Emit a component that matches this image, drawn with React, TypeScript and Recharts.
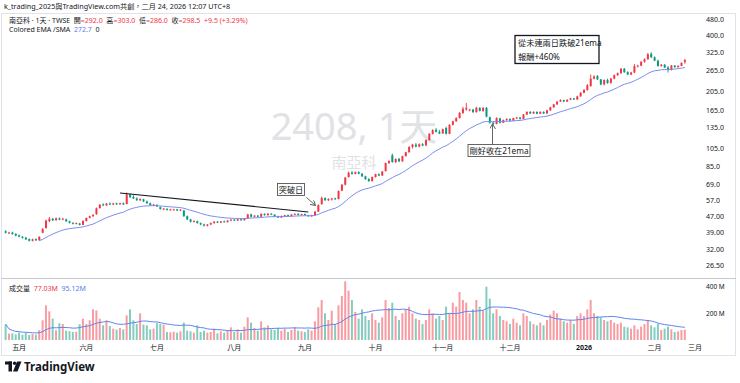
import React from 'react';
import { ComposedChart, Bar, Line, XAxis, YAxis, Cell, ReferenceLine } from 'recharts';

// ---------- DATA ----------
const dates: string[] = [
  '2025-04-25','2025-04-28','2025-04-29','2025-04-30',
  '2025-05-02','2025-05-05','2025-05-06','2025-05-07','2025-05-08','2025-05-09','2025-05-12','2025-05-13','2025-05-14','2025-05-15','2025-05-16','2025-05-19','2025-05-20','2025-05-21','2025-05-22','2025-05-23','2025-05-26','2025-05-27','2025-05-28','2025-05-29',
  '2025-06-02','2025-06-03','2025-06-04','2025-06-05','2025-06-06','2025-06-09','2025-06-10','2025-06-11','2025-06-12','2025-06-13','2025-06-16','2025-06-17','2025-06-18','2025-06-19','2025-06-20','2025-06-23','2025-06-24','2025-06-25','2025-06-26','2025-06-27','2025-06-30',
  '2025-07-01','2025-07-02','2025-07-03','2025-07-04','2025-07-07','2025-07-08','2025-07-09','2025-07-10','2025-07-11','2025-07-14','2025-07-15','2025-07-16','2025-07-17','2025-07-18','2025-07-21','2025-07-22','2025-07-23','2025-07-24','2025-07-25','2025-07-28','2025-07-29','2025-07-30','2025-07-31',
  '2025-08-01','2025-08-04','2025-08-05','2025-08-06','2025-08-07','2025-08-08','2025-08-11','2025-08-12','2025-08-13','2025-08-14','2025-08-15','2025-08-18','2025-08-19','2025-08-20','2025-08-21','2025-08-22','2025-08-25','2025-08-26','2025-08-27','2025-08-28','2025-08-29',
  '2025-09-01','2025-09-02','2025-09-03','2025-09-04','2025-09-05','2025-09-08','2025-09-09','2025-09-10','2025-09-11','2025-09-12','2025-09-15','2025-09-16','2025-09-17','2025-09-18','2025-09-19','2025-09-22','2025-09-23','2025-09-24','2025-09-25','2025-09-26','2025-09-30',
  '2025-10-01','2025-10-02','2025-10-03','2025-10-07','2025-10-08','2025-10-09','2025-10-13','2025-10-14','2025-10-15','2025-10-16','2025-10-17','2025-10-20','2025-10-21','2025-10-22','2025-10-23','2025-10-27','2025-10-28','2025-10-29','2025-10-30','2025-10-31',
  '2025-11-03','2025-11-04','2025-11-05','2025-11-06','2025-11-07','2025-11-10','2025-11-11','2025-11-12','2025-11-13','2025-11-14','2025-11-17','2025-11-18','2025-11-19','2025-11-20','2025-11-21','2025-11-24','2025-11-25','2025-11-26','2025-11-27','2025-11-28',
  '2025-12-01','2025-12-02','2025-12-03','2025-12-04','2025-12-05','2025-12-08','2025-12-09','2025-12-10','2025-12-11','2025-12-12','2025-12-15','2025-12-16','2025-12-17','2025-12-18','2025-12-19','2025-12-22','2025-12-23','2025-12-24','2025-12-26','2025-12-29','2025-12-30','2025-12-31',
  '2026-01-02','2026-01-05','2026-01-06','2026-01-07','2026-01-08','2026-01-09','2026-01-12','2026-01-13','2026-01-14','2026-01-15','2026-01-16','2026-01-19','2026-01-20','2026-01-21','2026-01-22','2026-01-23','2026-01-26','2026-01-27','2026-01-28','2026-01-29','2026-01-30',
  '2026-02-02','2026-02-03','2026-02-04','2026-02-05','2026-02-06','2026-02-09','2026-02-10','2026-02-11','2026-02-23','2026-02-24',
  '2026-02-25','2026-02-26','2026-03-02','2026-03-03',
];

const opens: number[] = [
  39.5,38.6,38.9,38.3,37.6,37,36.6,36,35.3,36,35.5,38.8,41,44.5,45.8,45,46,45.3,45.5,44.4,43.6,43.2,43.3,42.6,
  44.6,46.3,47.2,48.3,52,54.2,53.6,54.8,54.2,55,54.3,55,54.5,61,59.3,58.2,57,57.6,56.2,55,53.8,
  54,52.5,51.4,51.5,50.8,51,51.2,50.5,50.5,47.2,45.4,44.2,44.5,43.5,42.8,42.2,42.8,43.5,44.2,43.8,44.4,44,44.8,
  45.3,44.8,45.5,45,46,48.2,46.9,47.5,46.9,48.5,47.8,48.6,48.1,47.1,46.5,47.3,47.8,47.3,48.1,48.5,47.9,
  48.4,47.7,47.2,47.8,49.8,54.5,58.5,57,57.5,58.2,57.8,63.8,68.5,75,79,77.8,79.5,78,75.6,73.2,71.5,
  75,77.5,76.3,80.5,88.5,97,89.5,93,90.2,96,100.5,107,110,107.5,110.5,108.8,116,125,131,128,
  125.5,134,125,139,145,150.5,160,167,165,166.5,161.5,170,164,170,152,142.5,140.5,150,142.5,147,
  149,146,150,151.5,149,157,162,159,162,158.5,162,159,165,171,177,183,186,183,187,190,187.5,194.5,
  203,210,220,240,248,238,224,236,228,240,250,256,270,259,252,258,278,280,293,302,322,
  309,297,279,283,274,266,280,275,279,292,
];
const highs: number[] = [
  40,39.2,39.3,38.6,38,37.3,37,36.3,36.2,36.3,37.2,41,45.3,46.8,46.3,46.5,46.5,46.3,45.8,44.8,44,43.8,43.6,45,
  46.5,47.5,48.3,52.3,54.5,55,55.2,55.5,55.3,55.4,55.3,55.5,62.5,61.5,60.5,59,58.3,58,56.8,55.5,54.6,
  54.3,53,52,51.8,51.5,51.5,51.5,51.3,50.8,47.6,45.8,45,44.8,43.8,43.2,43,43.8,44.5,44.6,44.6,44.8,45,45.6,
  45.6,45.8,45.8,46.2,48.5,48.6,47.8,47.8,48.8,48.8,48.9,48.9,48.3,47.5,47.6,48,48.2,48.3,48.8,48.9,48.6,
  48.7,48,48,50.2,54.3,59.5,59,58.3,58.6,58.8,64,69,75,80,80.5,80,80.3,78.5,76.2,74,75.5,
  78,78.3,80.5,89,91.5,99,93.5,94,96.5,101,108,111,112,111.5,112,117,126,132,134,131,
  133,136,140,146,152,162,172,180,168,167.5,172,171,171,171.5,153,145,152,151,148,150,
  150,151,152.5,152.5,158,163,163.5,163,163,163,163,166,172,178,184,188,187,188,191,191,196,205,
  212,225,252,250,250,239,238,240,242,252,258,272,272,262,260,285,283,295,305,325,328,
  312,300,285,285,278,282,282,281,291,303,
];
const lows: number[] = [
  38.5,38.2,37.9,37.2,36.8,36.2,35.6,35,35,35.2,35.3,38.6,40.8,44,44.5,44.8,45,45,44.2,43.3,42.8,42.8,42.3,42.5,
  44.3,46,46.8,48,51.5,53.2,53.3,53.8,53.8,53.9,54,53.9,54.3,58.5,57.8,56.6,56.5,55.8,54.6,53.4,53.2,
  52.6,51,50.8,50.5,50.4,50.6,50.2,50.2,46.8,45,43.8,43.8,43.2,42.4,41.8,41.8,42.5,43.2,43.5,43.5,43.8,43.8,44.5,
  44.5,44.6,44.7,44.8,45.8,46.5,46.5,46.6,46.7,47.5,47.5,47.8,46.8,46.2,46.3,47,47,47,47.8,47.6,47.6,
  47.4,46.9,47,47.6,49.6,54,56.5,56.5,56.8,57.3,57.6,63.5,68,74.5,77.2,77.5,77.5,75,72.5,70.8,71,
  74.5,75.8,76,80,87.5,88.8,88.5,89.5,90,95.5,100,105,106.5,106.5,108,108.5,115.5,124,127,124.5,
  125,124,124.5,138,144,150,158,164,163,160,160.5,163,162,152,141,139,140,141,142,145.5,
  145,145.5,148.5,148,148.5,156,158,158,157.5,158,158,158.5,164,170,176,182,182,182,186,186.5,187,194,
  202,208,218,238,236,222,222,226,226,238,248,254,257,250,250,256,274,278,290,300,306,
  295,276,276,272,258,264,273,273,278,286,
];
const closes: number[] = [
  38.8,38.9,38.2,37.5,37,36.5,35.9,35.3,35.9,35.5,37,40.5,44.8,45.8,45,46,45.3,45.8,44.4,43.6,43.2,43.5,42.6,44.6,
  46.2,47.2,48,51.8,54,53.6,54.8,54.2,54.9,54.3,55,54.2,61,59.2,58.2,57,57.8,56.2,55,53.8,54.2,
  53,51.4,51.6,50.8,51.2,51.1,50.5,51,47.2,45.4,44.2,44.6,43.5,42.8,42.2,42.8,43.5,44.2,43.8,44.4,44,44.8,45.3,
  44.8,45.5,45,46,48.2,46.9,47.5,46.9,48.5,47.8,48.6,48.1,47.1,46.5,47.3,47.8,47.3,48.1,48.5,47.9,48.4,
  47.7,47.2,47.6,49.8,53.8,58.5,57,57.8,58.2,57.6,63.5,68.5,74.5,79,77.8,79.5,78,75.6,73.2,71.5,75,
  77.5,76.3,80,88.5,90.5,89.5,92.8,90.2,96,100.5,107,110,107.5,110.5,108.8,116,125,130.5,128,125.5,
  132,125,139,145,150.5,160,168,170,166.5,161.5,170,164,170,153,142.5,140.5,150.5,142.5,147,149,
  146,150.5,151.5,149,157,162,159,162,158.5,162,159,165,171,177,183,186,183,187,190,187.5,194.5,203,
  210,222,240,246,238,224,236,228,240,250,256,270,259,252,258,278,280,293,302,320,309,
  297,279,283,274,266,280,275,279,289,298.5,
];
// volume in millions
const volumes: number[] = [
  118,48,50,42,55,40,52,38,45,40,74,148,260,215,160,74,126,120,70,66,60,62,118,160,
  120,148,230,222,160,110,148,105,85,78,90,80,185,230,148,120,200,115,110,80,85,
  126,120,115,60,58,62,55,65,130,70,65,55,110,60,70,55,60,85,50,65,55,75,95,
  60,80,55,100,170,130,90,70,140,95,110,80,75,90,70,85,60,75,95,70,65,
  60,80,70,140,245,300,200,150,220,120,260,330,440,370,300,210,160,230,180,150,200,
  150,130,170,300,240,280,180,150,200,230,250,200,160,150,120,150,230,200,160,180,
  150,250,200,280,250,360,300,280,200,230,300,250,220,400,310,200,230,180,150,140,
  120,160,130,110,200,180,140,120,110,130,110,150,190,220,200,160,140,130,150,120,180,200,
  180,230,300,200,180,170,150,140,150,130,120,130,100,95,85,110,80,100,120,150,110,
  95,120,75,85,100,80,60,65,75,77.03,
];

const monthTickDates: string[] = ['2025-05-02','2025-06-02','2025-07-01','2025-08-01','2025-09-01','2025-10-01','2025-11-03','2025-12-01','2026-01-02','2026-02-02','2026-03-02'];
const monthTickLabels: string[] = ['五月','六月','七月','八月','九月','十月','十一月','十二月','2026','二月','三月'];

const priceTicks: number[] = [26.5, 32, 39, 47, 57, 69, 85, 105, 135, 165, 205, 265, 325, 400, 480];
const priceTickLabels: string[] = ['26.50','32.00','39.00','47.00','57.0','69.0','85.0','105.0','135.0','165.0','205.0','265.0','325.0','400.0','480.0'];
const volTicks: number[] = [200, 400];
const volTickLabels: string[] = ['200\u00A0M', '400\u00A0M'];

// trend line drawn by the author (from peak to breakout)
const trendStart = { date: '2025-06-16', value: 62.1 };
const trendEnd = { date: '2025-09-02', value: 49.6 };

// indicator settings
const EMA_LEN = 21;
const EMA_SEED_INDEX = 10;
const EMA_SEED_VALUE = 35.4;
const VOL_MA_LEN = 20;

// ---------- STYLE ----------
const UP = '#F23645';
const DOWN = '#089981';
const UP_VOL = '#f99ba2';
const DOWN_VOL = '#84ccc0';
const EMA_COLOR = '#7b8cf2';
const VOLMA_COLOR = '#5b86f0';
const TEXT = '#131722';
const FONT = '"Noto Sans", "Noto Sans CJK TC", sans-serif';

// ---------- DERIVED ----------
const k = 2 / (EMA_LEN + 1);
const emaVals: (number | null)[] = [];
{
  let prev: number | null = null;
  closes.forEach((c, i) => {
    if (i < EMA_SEED_INDEX) { emaVals.push(null); return; }
    if (prev === null) prev = EMA_SEED_VALUE;
    else prev = prev + k * (c - prev);
    emaVals.push(prev);
  });
}
const volMA: number[] = volumes.map((_, i) => {
  const s = Math.max(0, i - VOL_MA_LEN + 1);
  const w = volumes.slice(s, i + 1);
  return w.reduce((a, b) => a + b, 0) / w.length;
});

const rows = dates.map((date, i) => {
  const has = i < closes.length;
  return {
    date,
    open: has ? opens[i] : null,
    high: has ? highs[i] : null,
    low: has ? lows[i] : null,
    close: has ? closes[i] : null,
    range: has ? [lows[i], highs[i]] : null,
    volume: has ? volumes[i] : null,
    up: has ? closes[i] >= opens[i] : true,
    ema: has ? emaVals[i] : null,
    volMA: has ? volMA[i] : null,
  };
});

const Candle = (props: any) => {
  const { x, y, width, height, payload } = props;
  if (!payload || payload.open == null || !isFinite(y) || !isFinite(height)) return null;
  const { open, close, high, low } = payload;
  const color = close >= open ? UP : DOWN;
  const lh = Math.log(high);
  const ll = Math.log(low);
  const span = lh - ll || 1;
  const py = (v: number) => y + (height * (lh - Math.log(v))) / span;
  const cx = x + width / 2;
  const top = py(Math.max(open, close));
  const bot = py(Math.min(open, close));
  return (
    <g>
      <line x1={cx} x2={cx} y1={y} y2={y + height} stroke={color} strokeWidth={0.9} />
      <rect x={x} y={top} width={width} height={Math.max(0.9, bot - top)} fill={color} />
    </g>
  );
};

const MonthTick = (props: any) => {
  const { x, y, payload } = props;
  const label = monthTickLabels[monthTickDates.indexOf(payload.value)] ?? '';
  const isYear = /^\d{4}$/.test(label);
  return (
    <text x={x} y={y + 7} textAnchor="middle" fontSize={7} fontWeight={isYear ? 700 : 400} fill={TEXT} fontFamily={FONT}>
      {label}
    </text>
  );
};

const CHART_W = 732;
const AXIS_W = 36;

export default function App() {
  return (
    <div style={{ position: 'absolute', left: 0, top: 0, width: 740, height: 383, background: '#fff', fontFamily: FONT, overflow: 'hidden' }}>
      {/* frame */}
      <div style={{ position: 'absolute', left: 1, top: 13, width: 735, height: 343, border: '1px solid #e0e3eb', boxSizing: 'border-box' }} />
      <div style={{ position: 'absolute', left: 1, top: 278, width: 735, height: 1, background: '#c7c9d0' }} />

      {/* watermark */}
      <svg width={740} height={383} style={{ position: 'absolute', left: 0, top: 0 }}>
        <text x={354} y={140} textAnchor="middle" fontSize={38} fill="#e1e2e5" fontFamily={FONT}>2408, 1天</text>
        <text x={354} y={168} textAnchor="middle" fontSize={15} fill="#e1e2e5" fontFamily={FONT}>南亞科</text>
      </svg>

      {/* price pane */}
      <div style={{ position: 'absolute', left: 4, top: 14 }}>
        <ComposedChart width={CHART_W} height={264} data={rows} margin={{ top: 0, right: 0, bottom: 0, left: 0 }} barCategoryGap="20%">
          <XAxis dataKey="date" hide />
          <YAxis
            orientation="right"
            scale="log"
            domain={[22.73, 515.3]}
            allowDataOverflow
            ticks={priceTicks}
            interval={0}
            tickFormatter={(v: number) => priceTickLabels[priceTicks.indexOf(v)] ?? String(v)}
            width={AXIS_W}
            axisLine={false}
            tickLine={false}
            tickSize={0}
            tickMargin={6}
            tick={{ fontSize: 7, fill: TEXT, fontFamily: FONT }}
          />
          <Bar dataKey="range" isAnimationActive={false} shape={(p: any) => <Candle {...p} />} />
          <Line dataKey="ema" stroke={EMA_COLOR} strokeWidth={1} dot={false} isAnimationActive={false} connectNulls={false} />
          <ReferenceLine
            segment={[{ x: trendStart.date, y: trendStart.value }, { x: trendEnd.date, y: trendEnd.value }]}
            stroke="#131722"
            strokeWidth={1.2}
            ifOverflow="visible"
          />
        </ComposedChart>
      </div>

      {/* volume pane */}
      <div style={{ position: 'absolute', left: 4, top: 280 }}>
        <ComposedChart width={CHART_W} height={76} data={rows} margin={{ top: 0, right: 0, bottom: 0, left: 0 }} barCategoryGap="18%">
          <XAxis
            dataKey="date"
            ticks={monthTickDates}
            interval={0}
            axisLine={false}
            tickLine={false}
            tickSize={0}
            tickMargin={3}
            height={16}
            tick={<MonthTick />}
          />
          <YAxis
            orientation="right"
            domain={[0, 450]}
            allowDataOverflow
            ticks={volTicks}
            interval={0}
            tickFormatter={(v: number) => volTickLabels[volTicks.indexOf(v)] ?? ''}
            width={AXIS_W}
            axisLine={false}
            tickLine={false}
            tickSize={0}
            tickMargin={6}
            tick={{ fontSize: 6.5, fill: TEXT, fontFamily: FONT, width: 60 }}
          />
          <Bar dataKey="volume" isAnimationActive={false}>
            {rows.map((r, i) => (
              <Cell key={i} fill={r.up ? UP_VOL : DOWN_VOL} />
            ))}
          </Bar>
          <Line dataKey="volMA" stroke={VOLMA_COLOR} strokeWidth={1} dot={false} isAnimationActive={false} />
        </ComposedChart>
      </div>

      {/* header texts */}
      <div style={{ position: 'absolute', left: 4, top: 2, fontSize: 7.2, color: TEXT, whiteSpace: 'nowrap', lineHeight: '9px' }}>
        k_trading_2025與TradingView.com共創，二月 24, 2026 12:07 UTC+8
      </div>
      <div style={{ position: 'absolute', left: 9, top: 16, fontSize: 7, color: TEXT, whiteSpace: 'nowrap', lineHeight: '9px' }}>
        南亞科 · 1天 · TWSE&nbsp;&nbsp;開<span style={{ color: UP }}>=292.0</span>&nbsp;&nbsp;高<span style={{ color: UP }}>=303.0</span>&nbsp;&nbsp;低<span style={{ color: UP }}>=286.0</span>&nbsp;&nbsp;收<span style={{ color: UP }}>=298.5&nbsp;&nbsp;+9.5 (+3.29%)</span>
      </div>
      <div style={{ position: 'absolute', left: 9, top: 25, fontSize: 7, color: TEXT, whiteSpace: 'nowrap', lineHeight: '9px' }}>
        Colored EMA /SMA&nbsp;&nbsp;<span style={{ color: '#5b7cf0' }}>272.7</span>&nbsp;&nbsp;0
      </div>
      <div style={{ position: 'absolute', left: 9, top: 284, fontSize: 7, color: TEXT, whiteSpace: 'nowrap', lineHeight: '9px' }}>
        成交量&nbsp;&nbsp;<span style={{ color: UP }}>77.03M</span>&nbsp;&nbsp;<span style={{ color: '#5b7cf0' }}>95.12M</span>
      </div>

      {/* annotations */}
      <svg width={740} height={383} style={{ position: 'absolute', left: 0, top: 0, pointerEvents: 'none' }}>
        <defs>
          <marker id="ah" markerWidth="6" markerHeight="6" refX="5" refY="3" orient="auto" markerUnits="userSpaceOnUse">
            <path d="M0,0 L5,3 L0,6" fill="none" stroke="#555" strokeWidth={0.9} />
          </marker>
        </defs>
        <rect x={515} y={35.5} width={84} height={28} fill="#fff" stroke="#131722" strokeWidth={1.3} />
        <text x={518} y={46} fontSize={8.2} fill={TEXT} fontFamily={FONT}>從未連兩日跌破21ema</text>
        <text x={518} y={60} fontSize={8.2} fill={TEXT} fontFamily={FONT}>報酬+460%</text>

        <rect x={277.5} y={183.5} width={27} height={12} fill="#fff" stroke="#555" strokeWidth={0.9} />
        <text x={291} y={192.5} textAnchor="middle" fontSize={8.2} fill={TEXT} fontFamily={FONT}>突破日</text>
        <line x1={306.5} y1={197.5} x2={315.5} y2={205.5} stroke="#555" strokeWidth={0.9} markerEnd="url(#ah)" />

        <rect x={468} y={144.5} width={62} height={12} fill="#fff" stroke="#555" strokeWidth={0.9} />
        <text x={499} y={153.5} textAnchor="middle" fontSize={8.2} fill={TEXT} fontFamily={FONT}>剛好收在21ema</text>
        <line x1={492.5} y1={144} x2={492.5} y2={124} stroke="#555" strokeWidth={0.9} markerEnd="url(#ah)" />

        {/* TradingView logo */}
        <g fill="#131722">
          <rect x={5} y={361.5} width={7} height={3} />
          <rect x={8.5} y={361.5} width={3.5} height={10} />
          <circle cx={14.6} cy={363.2} r={1.7} />
          <polygon points="17,361.5 21.5,361.5 17.5,371.5 13,371.5" />
        </g>
        <text x={24} y={371} fontSize={11.5} fontWeight={700} fill="#131722" fontFamily={FONT}>TradingView</text>
      </svg>
    </div>
  );
}
